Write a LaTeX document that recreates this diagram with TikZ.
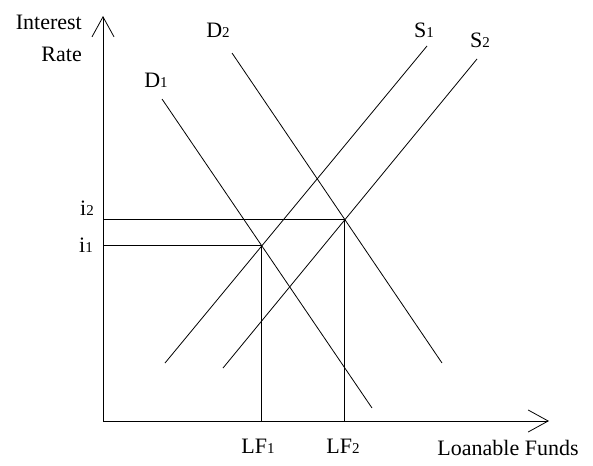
\documentclass[tikz,border=0pt]{standalone}
\usepackage{fontspec}
\setmainfont{Liberation Serif}
\usetikzlibrary{arrows.meta}
\newcommand{\idx}[1]{{\fontsize{15pt}{15pt}\selectfont#1}}
\tikzset{
  axis/.style={line width=0.9pt,-{Straight Barb[length=20pt,width=22pt,line width=0.8pt]}},
  curve/.style={line width=0.8pt},
  guide/.style={line width=0.9pt},
  lbl/.style={font=\fontsize{22pt}{24pt}\selectfont,inner sep=0pt,anchor=base}
}
\begin{document}
\begin{tikzpicture}[x=1pt,y=-1pt]
  \useasboundingbox (0,0) rectangle (593,465);
  % axes
  \coordinate (O) at (103,421);
  \coordinate (ytop) at (103,16);
  \coordinate (xend) at (549,421);
  \draw[axis] (O)--(ytop);
  \draw[axis] (O)--(xend);
  % demand and supply lines
  \coordinate (d1a) at (162,99);  \coordinate (d1b) at (372,408);
  \coordinate (d2a) at (232,53);  \coordinate (d2b) at (442,363);
  \coordinate (s1a) at (165,363); \coordinate (s1b) at (427,46);
  \coordinate (s2a) at (223,368); \coordinate (s2b) at (477,59);
  \draw[curve] (d1a)--(d1b);
  \draw[curve] (d2a)--(d2b);
  \draw[curve] (s1a)--(s1b);
  \draw[curve] (s2a)--(s2b);
  % equilibria
  \coordinate (e1) at (intersection of d1a--d1b and s1a--s1b);
  \coordinate (e2) at (intersection of d2a--d2b and s2a--s2b);
  \draw[guide] (O|-e1)--(e1)--(e1|-O);
  \draw[guide] (O|-e2)--(e2)--(e2|-O);
  % labels
  \node[lbl,anchor=base east] (yname) at (82,30) {Interest};
  \node[lbl,anchor=base east] (yrate) at (82,62) {Rate};
  \node[lbl] (xname) at (508,455) {Loanable Funds};
  \node[lbl] (labd1) at (156,88) {D\idx{1}};
  \node[lbl] (labd2) at (218,38) {D\idx{2}};
  \node[lbl] (labs1) at (424,38) {S\idx{1}};
  \node[lbl] (labs2) at (480,48) {S\idx{2}};
  \node[lbl] (labi2) at (87,215) {i\idx{2}};
  \node[lbl] (labi1) at (86,252) {i\idx{1}};
  \node[lbl] (labf1) at (258,453) {LF\idx{1}};
  \node[lbl] (labf2) at (343,453) {LF\idx{2}};
\end{tikzpicture}
\end{document}
